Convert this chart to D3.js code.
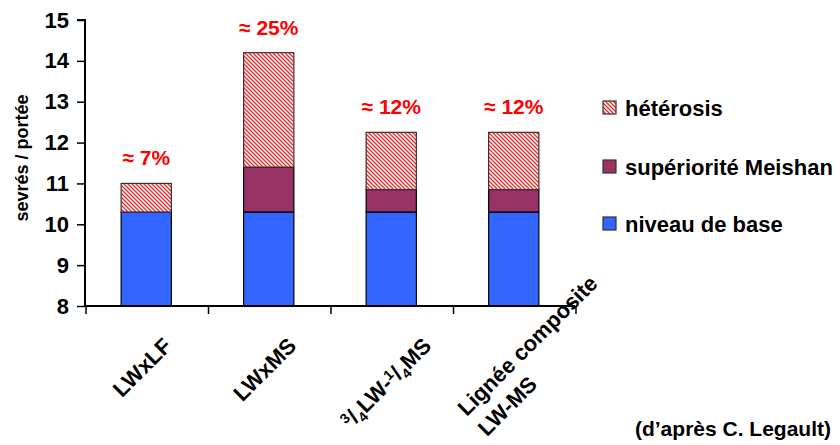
<!DOCTYPE html>
<html>
<head>
<meta charset="utf-8">
<script src="https://cdn.jsdelivr.net/npm/d3@7"></script>
<style>
  body { margin: 0; background: #fff; }
  svg { display: block; font-family: "Liberation Sans", Arial, sans-serif; font-weight: bold; }
</style>
</head>
<body>
<svg id="chart" width="840" height="445"></svg>
<script>
// ---------- data ----------
const categories = ["LWxLF", "LWxMS", "3/4LW-1/4MS", "Lignée composite|LW-MS"];
const baseLevel  = [10.3, 10.3, 10.3, 10.3];
const meishan    = [0, 1.1, 0.55, 0.55];
const heterosis  = [0.7, 2.8, 1.4, 1.4];
const pctLabels  = ["≈ 7%", "≈ 25%", "≈ 12%", "≈ 12%"];
const seriesNames = ["hétérosis", "supériorité Meishan", "niveau de base"];
const yTicks = [8, 9, 10, 11, 12, 13, 14, 15];
const yTitle = "sevrés / portée";
const source = "(d’après C. Legault)";

// ---------- layout ----------
const W = 840, H = 445;
const svg = d3.select("#chart");
const plot = { left: 85, right: 575, top: 20, bottom: 306 };

const x = d3.scaleBand().domain(categories).range([plot.left, plot.right]).padding(0);
const y = d3.scaleLinear().domain([8, 15]).range([plot.bottom, plot.top]);
const barW = x.bandwidth() * 0.41;

// pattern for heterosis
const defs = svg.append("defs");
const pat = defs.append("pattern").attr("id", "hatch")
  .attr("patternUnits", "userSpaceOnUse").attr("width", 4).attr("height", 4);
pat.append("rect").attr("width", 4).attr("height", 4).attr("fill", "#fff");
pat.append("path").attr("d", "M-1,3 l2,2 M0,0 l4,4 M3,-1 l2,2")
  .attr("stroke", "#ff2020").attr("stroke-width", 1.3);

const colors = { base: "#3366FF", meishan: "#993366", het: "url(#hatch)" };

// stacked data
const stacks = categories.map((c, i) => {
  const b0 = 8, b1 = baseLevel[i];
  const m1 = b1 + meishan[i];
  const h1 = m1 + heterosis[i];
  return { c, i, segs: [
    { y0: b0, y1: b1, fill: colors.base, stroke: "#000" },
    { y0: b1, y1: m1, fill: colors.meishan, stroke: "#000" },
    { y0: m1, y1: h1, fill: colors.het, stroke: "#333" }
  ], top: h1 };
});

const barG = svg.append("g");
stacks.forEach(s => {
  const cx = x(s.c) + x.bandwidth() / 2;
  s.segs.filter(g => g.y1 > g.y0).forEach(g => {
    barG.append("rect")
      .attr("x", cx - barW / 2)
      .attr("y", y(g.y1))
      .attr("width", barW)
      .attr("height", y(g.y0) - y(g.y1))
      .attr("fill", g.fill)
      .attr("stroke", g.stroke)
      .attr("stroke-width", 1.2);
  });
  svg.append("text")
    .attr("x", cx).attr("y", y(s.top) - 18)
    .attr("text-anchor", "middle")
    .attr("fill", "#ff0000")
    .attr("font-size", 21)
    .text(pctLabels[s.i]);
});

// y axis
const yAxis = d3.axisLeft(y).tickValues(yTicks).tickSize(8).tickPadding(8).tickFormat(d3.format("d"));
const yg = svg.append("g").attr("transform", `translate(${plot.left},0)`).call(yAxis);
yg.select(".domain").attr("stroke", "#000").attr("stroke-width", 2).attr("d", `M-8,${plot.top}H0V${plot.bottom}`);
yg.selectAll(".tick line").attr("stroke", "#000").attr("stroke-width", 1.5);
yg.selectAll(".tick text").attr("font-size", 22).attr("font-weight", "bold").attr("fill", "#000")
  .attr("font-family", "Liberation Sans, Arial, sans-serif");

// x axis
const xg = svg.append("g").attr("transform", `translate(0,${plot.bottom})`);
xg.append("line").attr("x1", plot.left).attr("x2", plot.right).attr("stroke", "#000").attr("stroke-width", 2);
const boundaries = categories.map(c => x(c)).concat([plot.right]);
xg.selectAll(".xt").data(boundaries).join("line")
  .attr("x1", d => d + 1).attr("x2", d => d + 1).attr("y1", 0).attr("y2", 8)
  .attr("stroke", "#000").attr("stroke-width", 1.5);

// x labels
const labG = svg.append("g");
categories.forEach((c, i) => {
  const cx = x(c) + x.bandwidth() / 2;
  const g = labG.append("g");
  const t = g.append("text").attr("font-size", 22).attr("fill", "#000");
  if (c.includes("|")) {
    // multi-line, left aligned
    const lines = c.split("|");
    t.attr("text-anchor", "start");
    lines.forEach((ln, k) => {
      t.append("tspan").attr("x", 0).attr("dy", k === 0 ? 0 : "1.3em").text(ln);
    });
    g.attr("transform", `translate(${cx - 47},${H - 28}) rotate(-45)`);
    return;
  }
  t.attr("text-anchor", "middle");
  if (c.includes("/")) {
    const parts = [["3", "sup"], ["/", ""], ["4", "sub"], ["LW-", ""], ["1", "sup"], ["/", ""], ["4", "sub"], ["MS", ""]];
    let prev = 0;
    parts.forEach(([txt, kind]) => {
      const sp = t.append("tspan").text(txt);
      const cur = kind === "sup" ? -7 : kind === "sub" ? 5 : 0;
      sp.attr("dy", cur - prev);
      if (kind) sp.attr("font-size", 14);
      prev = cur;
    });
    t.attr("dy", "0.35em");
  } else {
    t.attr("dy", "0.35em").text(c);
  }
  // position: rotated -45, bounding box top-centred under category
  g.attr("transform", `rotate(-45)`);
  const bb = g.node().getBoundingClientRect();
  const bx = (bb.left + bb.right) / 2;
  g.attr("transform", `translate(${cx - 4 - bx},${333 - bb.top}) rotate(-45)`);
});

// y title
svg.append("text")
  .attr("transform", `translate(28,${158}) rotate(-90)`)
  .attr("text-anchor", "middle").attr("font-size", 18).attr("fill", "#000")
  .text(yTitle);

// legend
const legY = [108, 167, 224];
const legFill = [colors.het, colors.meishan, colors.base];
const lg = svg.append("g");
seriesNames.forEach((n, i) => {
  lg.append("rect").attr("x", 603).attr("y", legY[i] - 7).attr("width", 13).attr("height", 13)
    .attr("fill", legFill[i]).attr("stroke", "#333").attr("stroke-width", 1.2);
  lg.append("text").attr("x", 625).attr("y", legY[i]).attr("dy", "0.35em")
    .attr("font-size", 22).attr("fill", "#000").text(n);
});

// source
svg.append("text").attr("x", 831).attr("y", 436).attr("text-anchor", "end")
  .attr("font-size", 21).attr("fill", "#000").text(source);
</script>
</body>
</html>
